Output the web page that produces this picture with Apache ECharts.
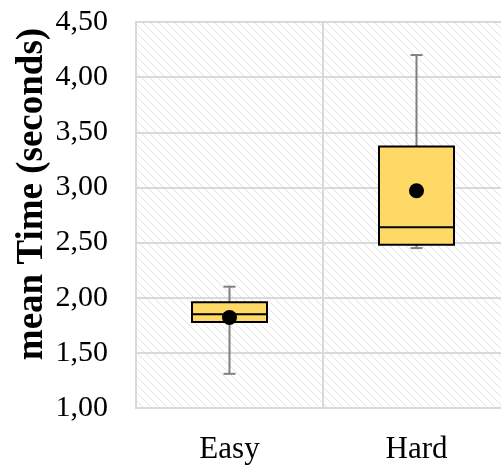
<!DOCTYPE html>
<html>
<head>
<meta charset="utf-8">
<script src="https://cdn.jsdelivr.net/npm/echarts@6/dist/echarts.min.js"></script>
<style>
  html, body { margin: 0; padding: 0; background: #fff; }
  #chart { width: 501px; height: 465px; }
</style>
</head>
<body>
<div id="chart"></div>
<script>
  // data
  var categories = ['Easy', 'Hard'];
  // [min, Q1, median, Q3, max]
  var boxStats = [
    [1.31, 1.78, 1.85, 1.96, 2.10],
    [2.45, 2.48, 2.64, 3.37, 4.20]
  ];
  var means = [1.82, 2.97];

  // hatched plot background
  function hatch() {
    var c = document.createElement('canvas');
    c.width = 8; c.height = 8;
    var ctx = c.getContext('2d');
    ctx.fillStyle = '#fff';
    ctx.fillRect(0, 0, 8, 8);
    ctx.strokeStyle = '#e2e2e2';
    ctx.lineWidth = 1;
    ctx.beginPath();
    ctx.moveTo(-1, -1); ctx.lineTo(9, 9);
    ctx.moveTo(-1, 7); ctx.lineTo(1, 9);
    ctx.moveTo(7, -1); ctx.lineTo(9, 1);
    ctx.stroke();
    return c;
  }

  var font = '"Liberation Serif", "Times New Roman", serif';

  var chart = echarts.init(document.getElementById('chart'));

  chart.setOption({
    animation: false,
    grid: {
      left: 136, top: 22, width: 374, height: 386,
      outerBoundsMode: 'none',
      containLabel: false,
      show: true,
      backgroundColor: { image: hatch(), repeat: 'repeat' },
      borderColor: '#d9d9d9',
      borderWidth: 2
    },
    xAxis: [{
      type: 'category',
      data: categories,
      axisLine: { show: false },
      axisTick: { show: false },
      splitLine: { show: true, lineStyle: { color: '#d9d9d9', width: 2 } },
      axisLabel: { fontFamily: font, fontSize: 31, color: '#000', margin: 26 }
    }, {
      type: 'category',
      data: categories,
      show: false
    }],
    yAxis: {
      type: 'value',
      min: 1, max: 4.5, interval: 0.5,
      axisLine: { show: false },
      axisTick: { show: false },
      splitLine: { lineStyle: { color: '#d9d9d9', width: 2 } },
      axisLabel: {
        fontFamily: font, fontSize: 30, color: '#000', margin: 28,
        formatter: function (v) { return v.toFixed(2).replace('.', ','); }
      }
    },
    graphic: [{
      type: 'text',
      x: 32, y: 194,
      rotation: Math.PI / 2,
      style: {
        text: 'mean Time (seconds)',
        font: 'bold 37px ' + font,
        fill: '#000',
        align: 'center',
        verticalAlign: 'middle'
      }
    }],
    series: [{
      // whiskers
      type: 'custom',
      xAxisIndex: 0,
      z: 1,
      data: boxStats.map(function (s, i) { return [i, s[0], s[4]]; }),
      renderItem: function (params, api) {
        var lo = api.coord([api.value(0), api.value(1)]);
        var hi = api.coord([api.value(0), api.value(2)]);
        var st = { stroke: '#808080', lineWidth: 2 };
        return {
          type: 'group',
          children: [
            { type: 'line', shape: { x1: lo[0], y1: lo[1], x2: hi[0], y2: hi[1] }, style: st },
            { type: 'line', shape: { x1: lo[0] - 6, y1: lo[1], x2: lo[0] + 6, y2: lo[1] }, style: st },
            { type: 'line', shape: { x1: hi[0] - 6, y1: hi[1], x2: hi[0] + 6, y2: hi[1] }, style: st }
          ]
        };
      }
    }, {
      // boxes (whiskers collapsed onto the box edges)
      type: 'boxplot',
      xAxisIndex: 1,
      z: 2,
      boxWidth: [75, 75],
      data: boxStats.map(function (s) { return [s[1], s[1], s[2], s[3], s[3]]; }),
      itemStyle: { color: '#ffd966', borderColor: '#000', borderWidth: 2 }
    }, {
      type: 'scatter',
      xAxisIndex: 0,
      z: 3,
      symbol: 'circle',
      symbolSize: 15,
      data: means.map(function (m, i) { return [i, m]; }),
      itemStyle: { color: '#000', opacity: 1 }
    }]
  });
</script>
</body>
</html>
